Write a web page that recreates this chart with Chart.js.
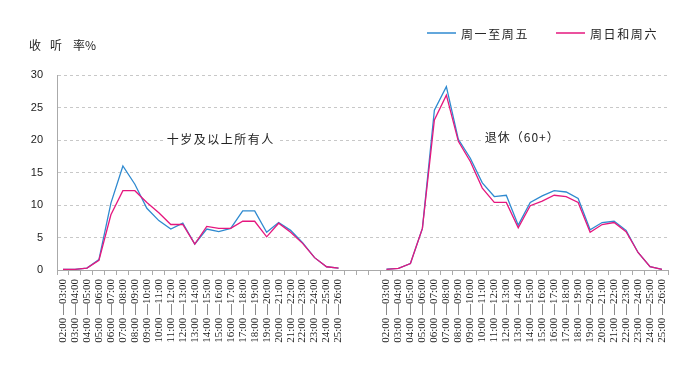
<!DOCTYPE html>
<html>
<head>
<meta charset="utf-8">
<script src="https://cdn.jsdelivr.net/npm/chart.js@4/dist/chart.umd.min.js"></script>
<style>
  html, body { margin: 0; padding: 0; background: #fff; }
  #wrap { width: 700px; height: 379px; }
</style>
</head>
<body>
<div id="wrap"><canvas id="c" width="700" height="379"></canvas></div>
<script>
// time slots, same 24 for both panels
const slots = [
  "02:00 —03:00", "03:00 —04:00", "04:00 —05:00", "05:00 —06:00", "06:00 —07:00", "07:00 —08:00",
  "08:00 —09:00", "09:00 —10:00", "10:00 —11:00", "11:00 —12:00", "12:00 —13:00", "13:00 —14:00",
  "14:00 —15:00", "15:00 —16:00", "16:00 —17:00", "17:00 —18:00", "18:00 —19:00", "19:00 —20:00",
  "20:00 —21:00", "21:00 —22:00", "22:00 —23:00", "23:00 —24:00", "24:00 —25:00", "25:00 —26:00"
];
const gapSlots = 3; // empty categories between the two panels

// 十岁及以上所有人
const allWeekday = [0.1, 0.1, 0.3, 1.6, 10.3, 16.0, 13.2, 9.5, 7.6, 6.3, 7.2, 4.0,
                    6.3, 5.9, 6.4, 9.1, 9.1, 5.8, 7.3, 6.1, 4.2, 1.9, 0.5, 0.3];
const allWeekend = [0.1, 0.1, 0.3, 1.5, 8.5, 12.2, 12.2, 10.4, 8.8, 7.0, 7.0, 4.0,
                    6.7, 6.4, 6.4, 7.5, 7.5, 5.1, 7.2, 5.8, 4.1, 1.9, 0.5, 0.3];
// 退休(60+)
const retWeekday = [0.15, 0.25, 1.0, 6.4, 24.6, 28.2, 20.1, 17.2, 13.4, 11.3, 11.5, 6.9,
                    10.4, 11.4, 12.2, 12.0, 11.0, 6.2, 7.3, 7.5, 6.1, 2.7, 0.5, 0.1];
const retWeekend = [0.1, 0.25, 1.0, 6.4, 23.1, 26.9, 19.8, 16.7, 12.6, 10.4, 10.4, 6.5,
                    9.9, 10.6, 11.5, 11.3, 10.4, 5.8, 7.0, 7.3, 5.9, 2.7, 0.5, 0.1];

const yTicks = [0, 5, 10, 15, 20, 25, 30];

const blue = "#2f8ad0";
const pink = "#e5177e";

const gap = new Array(gapSlots).fill(null);
const labels = [...slots, ...new Array(gapSlots).fill(""), ...slots];

function boxedText(ctx, txt, cx, cy){
  const w = ctx.measureText(txt).width;
  ctx.fillStyle = "#fff";
  ctx.fillRect(cx - w / 2 - 3, cy - 8, w + 6, 16);
  ctx.fillStyle = "#222";
  ctx.fillText(txt, cx, cy);
}

// title, panel captions and legend, drawn as text on the canvas
const decor = {
  id: "decor",
  afterDraw(chart){
    const ctx = chart.ctx;
    const x = chart.scales.x;
    ctx.save();
    ctx.fillStyle = "#222";
    ctx.textBaseline = "middle";
    ctx.font = "12px 'Noto Sans CJK SC'";
    ctx.letterSpacing = "9px";
    ctx.textAlign = "left";
    ctx.fillText("收听", 29, 45);
    ctx.letterSpacing = "0px";
    ctx.fillText("率%", 73, 45);

    ctx.letterSpacing = "1.5px";
    ctx.textAlign = "center";
    boxedText(ctx, "十岁及以上所有人", x.getPixelForValue(13) + 2, 139);
    ctx.letterSpacing = "1px";
    boxedText(ctx, "退休（60+）", x.getPixelForValue(38) + 4, 137);

    // legend
    ctx.textAlign = "left";
    ctx.letterSpacing = "1.6px";
    ctx.lineWidth = 1.5;
    const items = [[blue, "周一至周五", 427], [pink, "周日和周六", 556]];
    for (const [col, txt, lx] of items){
      ctx.strokeStyle = col;
      ctx.beginPath();
      ctx.moveTo(lx, 33);
      ctx.lineTo(lx + 29, 33);
      ctx.stroke();
      ctx.fillText(txt, lx + 34, 34);
    }
    ctx.restore();
  }
};

new Chart(document.getElementById("c").getContext("2d"), {
  type: "line",
  data: {
    labels,
    datasets: [
      {
        label: "周一至周五",
        data: [...allWeekday, ...gap, ...retWeekday],
        borderColor: blue,
        borderWidth: 1.3,
        pointRadius: 0,
        tension: 0,
        spanGaps: false,
        order: 1
      },
      {
        label: "周日和周六",
        data: [...allWeekend, ...gap, ...retWeekend],
        borderColor: pink,
        borderWidth: 1.3,
        pointRadius: 0,
        tension: 0,
        spanGaps: false,
        order: 0
      }
    ]
  },
  options: {
    responsive: false,
    animation: false,
    devicePixelRatio: 1,
    layout: { padding: { left: 0, right: 32, top: 75, bottom: 0 } },
    plugins: { legend: { display: false }, tooltip: { enabled: false } },
    scales: {
      x: {
        offset: true,
        afterFit(s){ s.height = 109; },
        border: { color: "#aaa", width: 1 },
        grid: { offset: true, drawOnChartArea: false, drawTicks: true, tickLength: 5, color: "#aaa" },
        ticks: {
          autoSkip: false,
          maxRotation: 90,
          minRotation: 90,
          padding: 4,
          color: "#222",
          font: { family: "'Liberation Serif', serif", size: 11 }
        }
      },
      y: {
        min: 0,
        max: 30,
        afterFit(s){ s.width = 57; },
        afterBuildTicks(s){ s.ticks = yTicks.map(v => ({ value: v })); },
        border: { color: "#aaa", width: 1, dash: [3, 3] },
        grid: { color: "#c8c8c8", drawTicks: false },
        ticks: {
          padding: 14,
          color: "#222",
          font: { family: "'Liberation Sans', Arial", size: 11 }
        }
      }
    }
  },
  plugins: [decor]
});
</script>
</body>
</html>
